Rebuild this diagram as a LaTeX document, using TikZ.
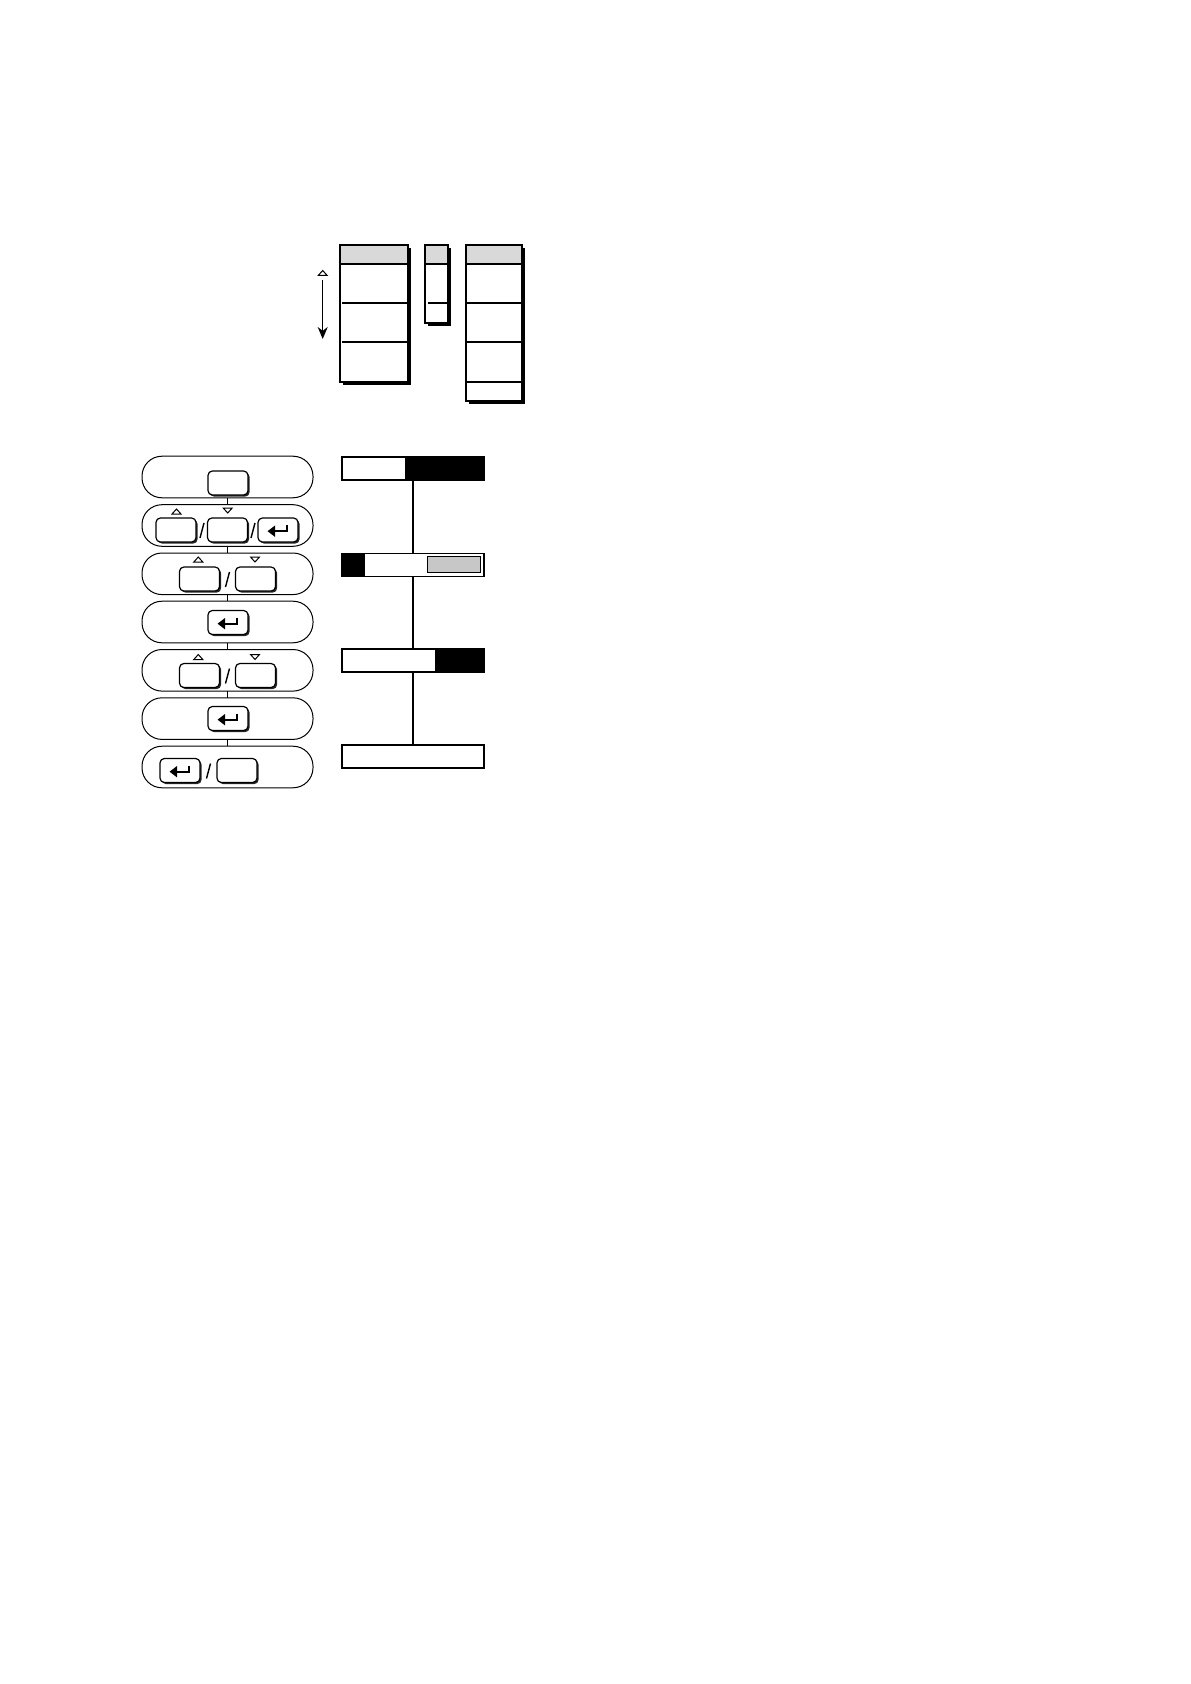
\documentclass[tikz,border=0pt]{standalone}
\usetikzlibrary{shadows,arrows.meta}
\definecolor{hdr}{gray}{0.85}
\definecolor{innergray}{gray}{0.78}
\begin{document}
\begin{tikzpicture}[x=0.5pt,y=-0.5pt,
  tbl/.style={draw, fill=white, line width=0.8pt, inner sep=0, outer sep=0,
    drop shadow={shadow xshift=1.6pt, shadow yshift=-1.6pt, fill=black, opacity=1}},
  capsule/.style={draw, line width=0.5pt, rounded corners=10pt, minimum width=85.5pt,
    minimum height=20.8pt, inner sep=0, outer sep=0},
  keybox/.style={draw, fill=white, line width=0.6pt, rounded corners=2.2pt,
    minimum width=20pt, minimum height=12pt, inner sep=0, outer sep=0,
    drop shadow={shadow xshift=0.8pt, shadow yshift=-0.8pt, fill=black!85, opacity=1}},
  bar/.style={draw, fill=white, line width=0.9pt, minimum width=71pt, minimum height=11.5pt,
    inner sep=0, outer sep=0},
  thinline/.style={line width=0.6pt},
  slashline/.style={line width=0.7pt},
  uptri/.pic={\draw[line width=0.5pt] (-4.5,2.5) -- (4.5,2.5) -- (0,-2.5) -- cycle;},
  dntri/.pic={\draw[line width=0.5pt] (-4.5,-2.5) -- (4.5,-2.5) -- (0,2.5) -- cycle;},
  enter/.pic={\draw[line width=1.1pt, -{Triangle[width=5.5pt,length=3.8pt]}]
      (9,-5) -- (9,1.2) -- (-10.5,1.2);}
]
\useasboundingbox (0,0) rectangle (1190,1684);

% ---------- tables ----------
\node[tbl, minimum width=34pt, minimum height=68.5pt] (t1) at (374,313.5) {};
\filldraw[fill=hdr, line width=0.8pt] (340,245) rectangle (408,264);
\draw[line width=0.8pt] (342,303) -- (408,303) (342,342) -- (408,342);

\node[tbl, minimum width=11.5pt, minimum height=39pt] (t2) at (436.5,284) {};
\filldraw[fill=hdr, line width=0.8pt] (425,245) rectangle (448,264);
\draw[line width=0.8pt] (428,303) -- (448,303);

\node[tbl, minimum width=28pt, minimum height=78pt] (t3) at (494,323) {};
\filldraw[fill=hdr, line width=0.8pt] (466,245) rectangle (522,264);
\draw[line width=0.8pt] (467,303) -- (522,303) (467,342) -- (522,342) (467,382) -- (522,382);

% scroll arrow
\pic at (322.7,273) {uptri};
\coordinate (ar1) at (322.7,280);
\coordinate (ar2) at (322.7,339);
\draw[line width=0.6pt, -{Stealth[width=5pt,length=6pt]}] (ar1) -- (ar2);

% ---------- capsules ----------
\node[capsule] (c1) at (227.5,477) {};
\node[capsule] (c2) at (227.5,525.5) {};
\node[capsule] (c3) at (227.5,573.8) {};
\node[capsule] (c4) at (227.5,622) {};
\node[capsule] (c5) at (227.5,670.3) {};
\node[capsule] (c6) at (227.5,718.6) {};
\node[capsule] (c7) at (227.5,767) {};
\draw[thinline] (c1.south) -- (c2.north);
\draw[thinline] (c2.south) -- (c3.north);
\draw[thinline] (c3.south) -- (c4.north);
\draw[thinline] (c4.south) -- (c5.north);
\draw[thinline] (c5.south) -- (c6.north);
\draw[thinline] (c6.south) -- (c7.north);

% capsule 1
\node[keybox] (k1) at (228,483) {};
% capsule 2
\node[keybox] (k2a) at (176,530) {};
\node[keybox] (k2b) at (227.5,530) {};
\node[keybox] (k2c) at (278,530) {};
\pic at (k2c.center) {enter};
\pic at (176.5,511.5) {uptri};
\pic at (227.7,510.5) {dntri};
\draw[slashline] (200,538) -- (204,523);
\draw[slashline] (251,538) -- (255,523);
% capsule 3
\node[keybox] (k3a) at (199.5,579) {};
\node[keybox] (k3b) at (255.5,579) {};
\pic at (198.3,559.5) {uptri};
\pic at (255,559.5) {dntri};
\draw[slashline] (225.5,587) -- (229.5,572);
% capsule 4
\node[keybox] (k4) at (228,622.5) {};
\pic at (k4.center) {enter};
% capsule 5
\node[keybox] (k5a) at (199.5,675.5) {};
\node[keybox] (k5b) at (255.5,675.5) {};
\pic at (198.3,657) {uptri};
\pic at (255,657) {dntri};
\draw[slashline] (225.5,683.5) -- (229.5,668.5);
% capsule 6
\node[keybox] (k6) at (228,718.5) {};
\pic at (k6.center) {enter};
% capsule 7
\node[keybox] (k7a) at (180,770.5) {};
\pic at (k7a.center) {enter};
\node[keybox] (k7b) at (237,770.5) {};
\draw[slashline] (206.5,778.5) -- (210.5,763.5);

% ---------- bars ----------
\node[bar] (b1) at (413,468.8) {};
\fill (405,457.3) rectangle (484,480.3);
\node[bar] (b2) at (413,565) {};
\fill (341.7,553.3) rectangle (365,576.7);
\filldraw[fill=innergray, line width=0.6pt] (427.3,556.7) rectangle (480.7,572.3);
\node[bar] (b3) at (413,660.8) {};
\fill (435,649.3) rectangle (484,672.3);
\node[bar] (b4) at (413,756.7) {};
\draw[thinline] (b1.south) -- (b2.north);
\draw[thinline] (b2.south) -- (b3.north);
\draw[thinline] (b3.south) -- (b4.north);

\end{tikzpicture}
\end{document}
